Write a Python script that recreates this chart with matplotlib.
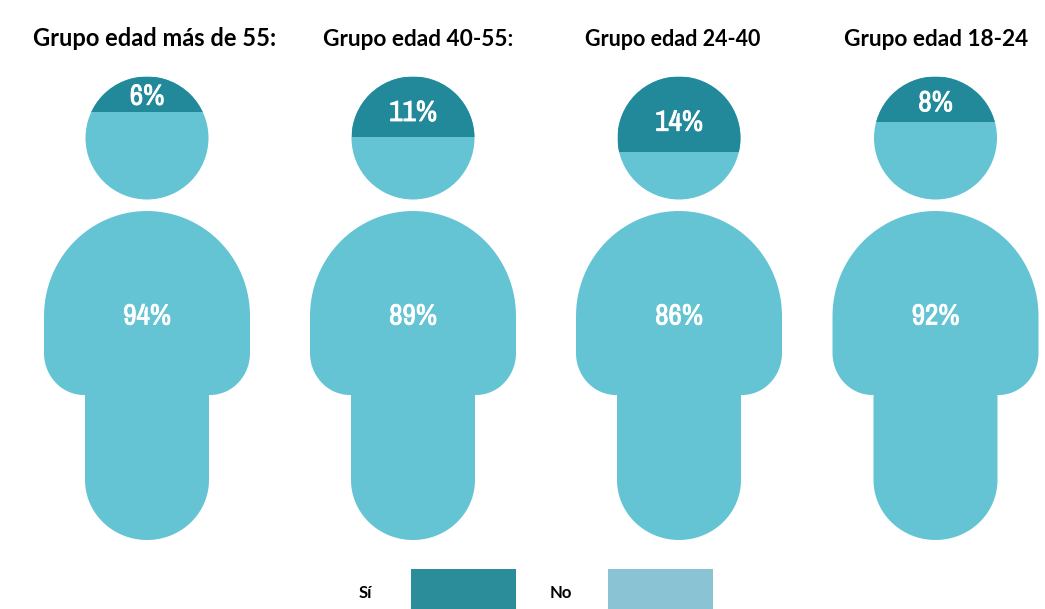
import numpy as np
import matplotlib
matplotlib.use("Agg")
import matplotlib.pyplot as plt
import matplotlib.patheffects as pe
from matplotlib import font_manager as fm
from matplotlib.patches import Circle, Rectangle, Polygon

groups = ["Grupo edad más de 55:", "Grupo edad 40-55:", "Grupo edad 24-40", "Grupo edad 18-24"]
si_values = [6, 11, 14, 8]
no_values = [94, 89, 86, 92]
legend_labels = ["Sí", "No"]

DARK = "#21899A"
LIGHT = "#64C4D4"
LEG_DARK = "#2A8D99"
LEG_LIGHT = "#89C3D4"

centers = [147, 413, 679, 935.5]
title_x = [155, 418, 673, 936]
title_sizes = [17, 16.3, 15.5, 16.3]

fig = plt.figure(figsize=(10.45, 6.09), dpi=100)
ax = fig.add_axes([0, 0, 1, 1])
ax.set_xlim(0, 1045)
ax.set_ylim(609, 0)
ax.axis("off")

def arc(cx, cy, rx, ry, a0, a1, n=60):
    t = np.radians(np.linspace(a0, a1, n))
    return np.column_stack([cx + rx * np.cos(t), cy + ry * np.sin(t)])

def body(cx):
    pts = [
        arc(cx, 316, 103, 105, 180, 360),
        arc(cx + 63, 353, 40, 42, 0, 90),
        np.array([[cx + 62, 395], [cx + 62, 480]]),
        arc(cx, 480, 62, 60, 0, 180),
        np.array([[cx - 62, 480], [cx - 62, 395]]),
        arc(cx - 63, 353, 40, 42, 90, 180),
    ]
    return np.vstack(pts)

names = sorted({f.name for f in fm.fontManager.ttflist})
narrow = [n for n in names if "Condensed" in n or "Narrow" in n]
label_font = narrow[:1] + ["Lato", "DejaVu Sans"]
title_font = ["Lato", "DejaVu Sans"]
thick = [pe.withStroke(linewidth=0.6, foreground="white")]

HEAD_Y, HEAD_R = 138, 61.5

for cx, tx, title, size, si, no in zip(centers, title_x, groups, title_sizes, si_values, no_values):
    ax.add_patch(Circle((cx, HEAD_Y), HEAD_R, fc=LIGHT, ec="none"))
    cap_h = 5.0 + 5.0 * si
    dark = Circle((cx, HEAD_Y), HEAD_R, fc=DARK, ec="none")
    ax.add_patch(dark)
    dark.set_clip_path(Rectangle((cx - HEAD_R, HEAD_Y - HEAD_R), 2 * HEAD_R, cap_h,
                                 transform=ax.transData))
    ax.add_patch(Polygon(body(cx), closed=True, fc=LIGHT, ec="none"))
    ax.text(cx, HEAD_Y - HEAD_R + 0.65 * cap_h - 3, f"{si}%", color="white", fontsize=21,
            fontweight="bold", family=label_font, ha="center", va="center", path_effects=thick)
    ax.text(cx, 316, f"{no}%", color="white", fontsize=21, fontweight="bold",
            family=label_font, ha="center", va="center", path_effects=thick)
    ax.text(tx, 46, title, color="black", fontsize=size, fontweight="bold",
            family=title_font, ha="center", va="baseline")

for label, lx, rx, color in zip(legend_labels, [365, 561], [411, 608], [LEG_DARK, LEG_LIGHT]):
    ax.text(lx, 593, label, color="black", fontsize=12, fontweight="bold",
            family=title_font, ha="center", va="center")
    ax.add_patch(Rectangle((rx, 569), 105, 40, fc=color, ec="none"))

fig.savefig("out.png", dpi=100)
